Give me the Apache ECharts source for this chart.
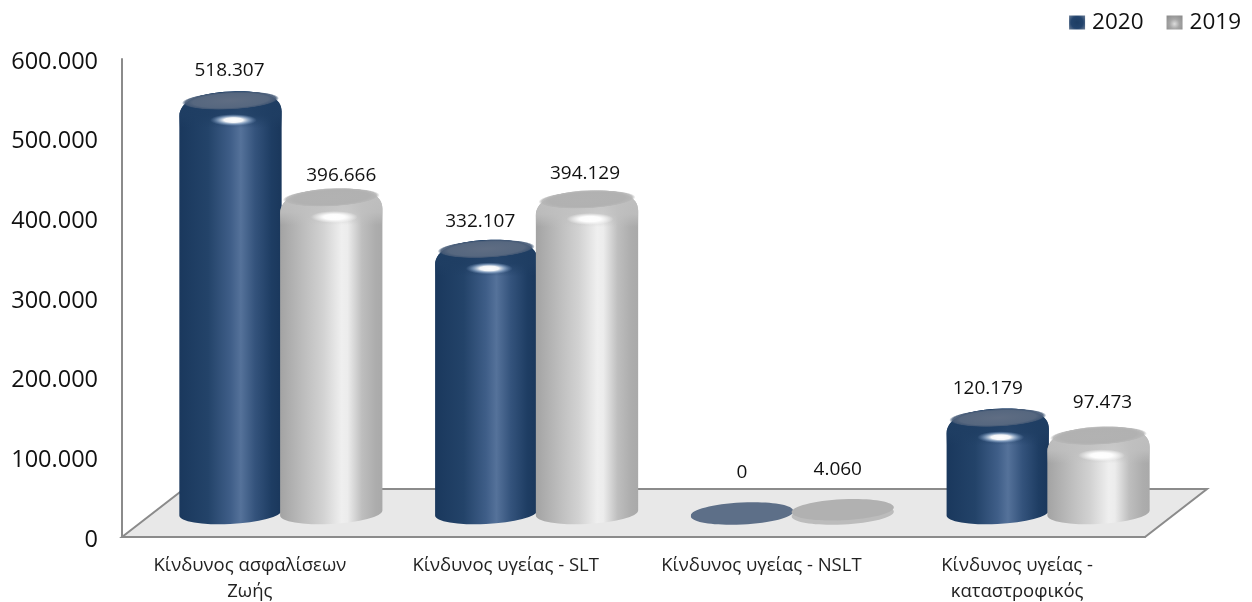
<!DOCTYPE html>
<html>
<head>
<meta charset="utf-8">
<style>html,body{margin:0;padding:0;background:#fff}#c{width:1252px;height:602px}</style>
<script src="https://cdn.jsdelivr.net/npm/echarts@6/dist/echarts.min.js"></script>
</head>
<body>
<div id="c"></div>
<script>
const categories = ['Κίνδυνος ασφαλίσεων\nΖωής', 'Κίνδυνος υγείας - SLT', 'Κίνδυνος υγείας - NSLT', 'Κίνδυνος υγείας -\nκαταστροφικός'];
const values2020 = [518307, 332107, 0, 120179];
const values2019 = [396666, 394129, 4060, 97473];
const yTicks = { min: 0, max: 600000, interval: 100000 };

// 3D look: depth shift of the bars away from the front axis
const DEPTH_X = 31, DEPTH_Y = -24;
const labelNudge2020 = [[-1, -53], [-6, -51], [0, -64], [-10, -53]];
const labelNudge2019 = [[10, -45], [-2, -49], [-5, -64], [4, -57]];

const FONT = '"Open Sans", sans-serif';
const fmt = v => String(v).replace(/\B(?=(\d{3})+(?!\d))/g, '.');
const hGrad = stops => ({ type: 'linear', x: 0, y: 0, x2: 1, y2: 0, colorStops: stops.map(s => ({ offset: s[0], color: s[1] })) });
const vGrad = stops => ({ type: 'linear', x: 0, y: 0, x2: 0, y2: 1, colorStops: stops.map(s => ({ offset: s[0], color: s[1] })) });
const radial = stops => ({ type: 'radial', x: 0.5, y: 0.5, r: 0.5, colorStops: stops.map(s => ({ offset: s[0], color: s[1] })) });

const navy = {
  body: hGrad([[0, '#1a385d'], [0.28, '#234369'], [0.5, '#3f5e88'], [0.6, '#55729a'], [0.74, '#34537c'], [0.9, '#1e3d63'], [1, '#1a375b']]),
  shoulder: vGrad([[0, 'rgba(31,62,99,1)'], [0.65, 'rgba(31,62,99,0.85)'], [1, 'rgba(31,62,99,0)']]),
  cap: radial([[0, '#5f6d83'], [0.78, '#56677f'], [0.93, 'rgba(70,90,118,0.9)'], [1, 'rgba(40,70,105,0)']]),
  glow: radial([[0, 'rgba(255,255,255,1)'], [0.4, 'rgba(255,255,255,0.95)'], [0.7, 'rgba(170,195,225,0.55)'], [1, 'rgba(120,150,190,0)']]),
  disc: '#5d6f88', discUnder: '#5d6f88',
  icon: { type: 'radial', x: 0.5, y: 0.5, r: 0.7, colorStops: [{ offset: 0, color: '#1d3d63' }, { offset: 0.6, color: '#23446d' }, { offset: 1, color: '#60748f' }] }
};
const gray = {
  body: hGrad([[0, '#a3a3a3'], [0.22, '#bcbcbc'], [0.42, '#d2d2d2'], [0.6, '#efefef'], [0.66, '#ececec'], [0.8, '#bebebe'], [0.93, '#adadad'], [1, '#a9a9a9']]),
  shoulder: vGrad([[0, 'rgba(192,192,192,1)'], [0.65, 'rgba(192,192,192,0.8)'], [1, 'rgba(192,192,192,0)']]),
  cap: radial([[0, '#b2b2b2'], [0.78, '#b1b1b1'], [0.93, 'rgba(182,182,182,0.9)'], [1, 'rgba(192,192,192,0)']]),
  glow: radial([[0, 'rgba(255,255,255,1)'], [0.45, 'rgba(255,255,255,0.95)'], [1, 'rgba(255,255,255,0)']]),
  disc: '#b1b1b1', discUnder: '#bcbcbc',
  icon: { type: 'radial', x: 0.5, y: 0.6, r: 0.7, colorStops: [{ offset: 0, color: '#dcdcdc' }, { offset: 0.5, color: '#a6a6a6' }, { offset: 1, color: '#8f8f8f' }] }
};

function ellipse(cx, cy, rx, ry, fill, rot) {
  return { type: 'ellipse', x: cx, y: cy, rotation: rot || 0, shape: { cx: 0, cy: 0, rx, ry }, style: { fill } };
}
function softEllipse(cx, cy, rx, ry, fill, rot) {
  return { type: 'circle', x: cx, y: cy, rotation: rot || 0, scaleX: rx / ry, scaleY: 1, shape: { cx: 0, cy: 0, r: ry }, style: { fill } };
}

function cylinder(style, side, nudges) {
  return function (params, api) {
    const idx = api.value(0), val = api.value(1);
    const band = api.size([1, 0])[0];
    const base = api.coord([idx, 0]);
    const top = api.coord([idx, val]);
    const w = band * 0.2, x = base[0] + DEPTH_X + side * band * 0.197;
    const yb = base[1] + DEPTH_Y, yc = top[1] + DEPTH_Y;
    const L = x - w, R = x + w, t = 2.5, tilt = 0.05;
    const children = [];
    if (yb - yc < 10) {
      children.push(ellipse(x, yb + 1, w, 10.5, style.discUnder, tilt));
      children.push(ellipse(x, yc, w, 10.5, style.disc, tilt));
    } else {
      const sh = 14;
      const topPath = `M ${L} ${yc + sh + t} C ${L} ${yc - 2 + t} ${x - w * 0.6} ${yc - 8.5 + 0.6 * t} ${x} ${yc - 8.5} C ${x + w * 0.6} ${yc - 8.5 - 0.6 * t} ${R} ${yc - 2 - t} ${R} ${yc + sh - t}`;
      children.push({
        type: 'path',
        shape: { pathData: `${topPath} L ${R} ${yb - t} A ${w} 11 -3 0 1 ${L} ${yb + t} Z` },
        style: { fill: style.body }
      });
      children.push({
        type: 'path',
        shape: { pathData: `${topPath} L ${R} ${yc + 28} L ${L} ${yc + 28} Z` },
        style: { fill: style.shoulder }
      });
      children.push(softEllipse(x, yc + 0.5, w * 0.95, 9, style.cap, tilt));
      children.push(softEllipse(x + 3, yc + 20, w * 0.46, 6, style.glow, 0));
    }
    const n = nudges[idx];
    children.push({
      type: 'text',
      style: { text: fmt(val), x: x + n[0], y: top[1] + n[1], align: 'center', verticalAlign: 'middle', font: '19px ' + FONT, fill: '#111' }
    });
    return { type: 'group', children };
  };
}

function renderFloor(params, api) {
  const c = params.coordSys;
  const dx = DEPTH_X * 2, dy = DEPTH_Y * 2;
  const b = c.y + c.height, r = c.x + c.width;
  return {
    type: 'polygon',
    shape: { points: [[c.x, b], [c.x + dx, b + dy], [r + dx, b + dy], [r, b]] },
    style: { fill: '#e8e8e8', stroke: '#8b8b8b', lineWidth: 2 }
  };
}

const chart = echarts.init(document.getElementById('c'));
const indexed = arr => arr.map((v, i) => [i, v]);
chart.setOption({
  animation: false,
  backgroundColor: '#fff',
  legend: {
    right: 6, top: 6, itemWidth: 16, itemHeight: 14, itemGap: 23, selectedMode: false,
    data: [{ name: '2020', icon: 'rect' }, { name: '2019', icon: 'rect' }],
    textStyle: { fontFamily: FONT, fontSize: 22.5, color: '#111', padding: [0, 0, 0, 2] }
  },
  grid: { left: 122, top: 59, width: 1023, height: 478, outerBoundsMode: 'none' },
  xAxis: {
    type: 'category', data: categories,
    axisLine: { lineStyle: { color: '#8b8b8b', width: 2 } },
    axisTick: { show: false },
    axisLabel: { fontFamily: FONT, fontSize: 18.5, color: '#222', margin: 16, lineHeight: 26, interval: 0 }
  },
  yAxis: {
    type: 'value', min: yTicks.min, max: yTicks.max, interval: yTicks.interval,
    splitLine: { show: false },
    axisTick: { show: false },
    axisLine: { show: true, lineStyle: { color: '#8b8b8b', width: 2 } },
    axisLabel: { fontFamily: FONT, fontSize: 23.5, color: '#111', margin: 24, verticalAlign: 'top', lineHeight: 6, formatter: v => fmt(v) }
  },
  series: [
    { type: 'custom', name: 'floor', silent: true, z: 1, data: [[0, 0]], renderItem: renderFloor, encode: { x: 0, y: 1 } },
    { type: 'custom', name: '2020', z: 2, itemStyle: { color: navy.icon }, data: indexed(values2020), renderItem: cylinder(navy, -1, labelNudge2020), encode: { x: 0, y: 1 } },
    { type: 'custom', name: '2019', z: 3, itemStyle: { color: gray.icon }, data: indexed(values2019), renderItem: cylinder(gray, 1, labelNudge2019), encode: { x: 0, y: 1 } }
  ]
});
</script>
</body>
</html>
